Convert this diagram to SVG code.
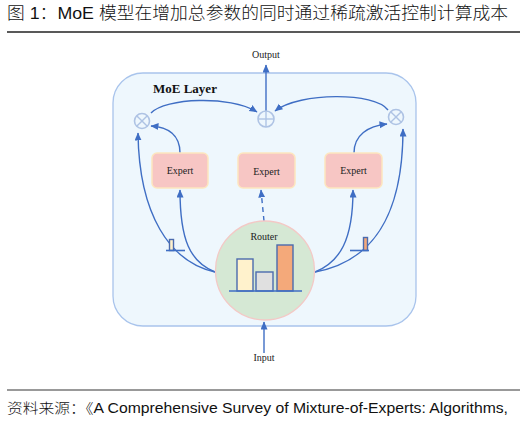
<svg xmlns="http://www.w3.org/2000/svg" width="527" height="421" viewBox="0 0 527 421">
<defs>
<marker id="ah" markerUnits="userSpaceOnUse" markerWidth="10" markerHeight="8" refX="7.5" refY="3.5" orient="auto">
<path d="M0,0 L8,3.5 L0,7 z" fill="#3f6ec4"/>
</marker>
<style>
.title{font-family:"Liberation Sans","Noto Sans CJK SC",sans-serif;font-size:17px;font-weight:300;fill:#111}
.src{font-family:"Liberation Sans","Noto Sans CJK SC",sans-serif;font-size:14px;font-weight:300;fill:#111}
.lbl{font-family:"Liberation Serif",serif;font-size:10px;fill:#222;text-anchor:middle}
.conn{fill:none;stroke:#3f6ec4;stroke-width:1.4}
.op{fill:#eef7fd;stroke:#aec3e4;stroke-width:1.6}
.opl{stroke:#aec3e4;stroke-width:1.4}
.expert{fill:#f7c6c4;stroke:#fde6bf;stroke-width:1.5}
.bar{stroke:#4b6bae;stroke-width:1.4}
.base{stroke:#3f6ec4;stroke-width:1.6}
</style>
</defs>
<rect width="527" height="421" fill="#ffffff"/>
<text class="title" x="7" y="19" textLength="501" lengthAdjust="spacingAndGlyphs">图 1：MoE 模型在增加总参数的同时通过稀疏激活控制计算成本</text>
<line x1="7" y1="32" x2="520" y2="32" stroke="#222" stroke-width="1.5"/>

<g id="moe-layer">
<rect x="113" y="73" width="303" height="253" rx="30" ry="30" fill="#eef7fd" stroke="#a9c4ec" stroke-width="1.3"/>
<text x="153" y="93" font-family="Liberation Serif, serif" font-size="13" font-weight="bold" fill="#111">MoE Layer</text>
</g>

<g id="connectors">
<path class="conn" d="M266,111 L266,65" marker-end="url(#ah)"/>
<path class="conn" d="M151,113 C165,98 230,95 257,112" marker-end="url(#ah)"/>
<path class="conn" d="M388,110 C375,92 300,92 275,111" marker-end="url(#ah)"/>
<path class="conn" d="M180,153 C180,135 168,127 151,126" marker-end="url(#ah)"/>
<path class="conn" d="M354,153 C354,135 368,126 387,124" marker-end="url(#ah)"/>
<path class="conn" d="M215,272 C170,262 139,215 138,133" marker-end="url(#ah)"/>
<path class="conn" d="M215,272 C190,262 180,240 180,190" marker-end="url(#ah)"/>
<path class="conn" d="M315,272 C370,262 403,220 403,129" marker-end="url(#ah)"/>
<path class="conn" d="M315,272 C340,262 353,240 353,190" marker-end="url(#ah)"/>
<path class="conn" d="M264,221 L261,190" stroke-dasharray="5,4" marker-end="url(#ah)"/>
<path class="conn" d="M264,353 L264,322" marker-end="url(#ah)"/>
</g>

<g id="output">
<text class="lbl" x="266" y="58">Output</text>
</g>
<g id="input">
<text class="lbl" x="264" y="361">Input</text>
</g>

<g id="plus">
<circle class="op" cx="266" cy="119" r="8"/>
<line class="opl" x1="258" y1="119" x2="274" y2="119"/>
<line class="opl" x1="266" y1="111" x2="266" y2="127"/>
</g>
<g id="times-left">
<circle class="op" cx="142" cy="121" r="7.5"/>
<line class="opl" x1="136.7" y1="115.7" x2="147.3" y2="126.3"/>
<line class="opl" x1="147.3" y1="115.7" x2="136.7" y2="126.3"/>
</g>
<g id="times-right">
<circle class="op" cx="396" cy="117" r="7.5"/>
<line class="opl" x1="390.7" y1="111.7" x2="401.3" y2="122.3"/>
<line class="opl" x1="401.3" y1="111.7" x2="390.7" y2="122.3"/>
</g>

<g id="expert-left">
<rect class="expert" x="152" y="153" width="56" height="35" rx="5"/>
<text class="lbl" x="180" y="174">Expert</text>
</g>
<g id="expert-mid">
<rect class="expert" x="238" y="153" width="57" height="35" rx="5"/>
<text class="lbl" x="266.5" y="175">Expert</text>
</g>
<g id="expert-right">
<rect class="expert" x="325" y="153" width="57" height="35" rx="5"/>
<text class="lbl" x="353.5" y="174">Expert</text>
</g>

<g id="gate-left">
<rect class="bar" x="169.5" y="239.5" width="4" height="11" fill="#fff2cc"/>
<line class="base" x1="166" y1="250.5" x2="185" y2="250.5"/>
</g>
<g id="gate-right">
<rect class="bar" x="363.5" y="237.5" width="4" height="13" fill="#f4a97a"/>
<line class="base" x1="350" y1="250.5" x2="369" y2="250.5"/>
</g>

<g id="router">
<circle cx="265" cy="270.5" r="49.5" fill="#d5e8d4" stroke="#f3c9c6" stroke-width="1.3"/>
<text class="lbl" x="264" y="240">Router</text>
<rect class="bar" x="237" y="259" width="16" height="32" fill="#fff2cc"/>
<rect class="bar" x="256" y="272" width="17" height="19" fill="#e0e0e0"/>
<rect class="bar" x="277" y="245" width="16" height="46" fill="#f4a97a"/>
<line class="base" x1="229" y1="291" x2="302" y2="291"/>
</g>

<line x1="7" y1="390" x2="520" y2="390" stroke="#777" stroke-width="1.5"/>
<text class="src" x="7" y="413" textLength="501" lengthAdjust="spacingAndGlyphs">资料来源：《A Comprehensive Survey of Mixture-of-Experts: Algorithms,</text>
</svg>
